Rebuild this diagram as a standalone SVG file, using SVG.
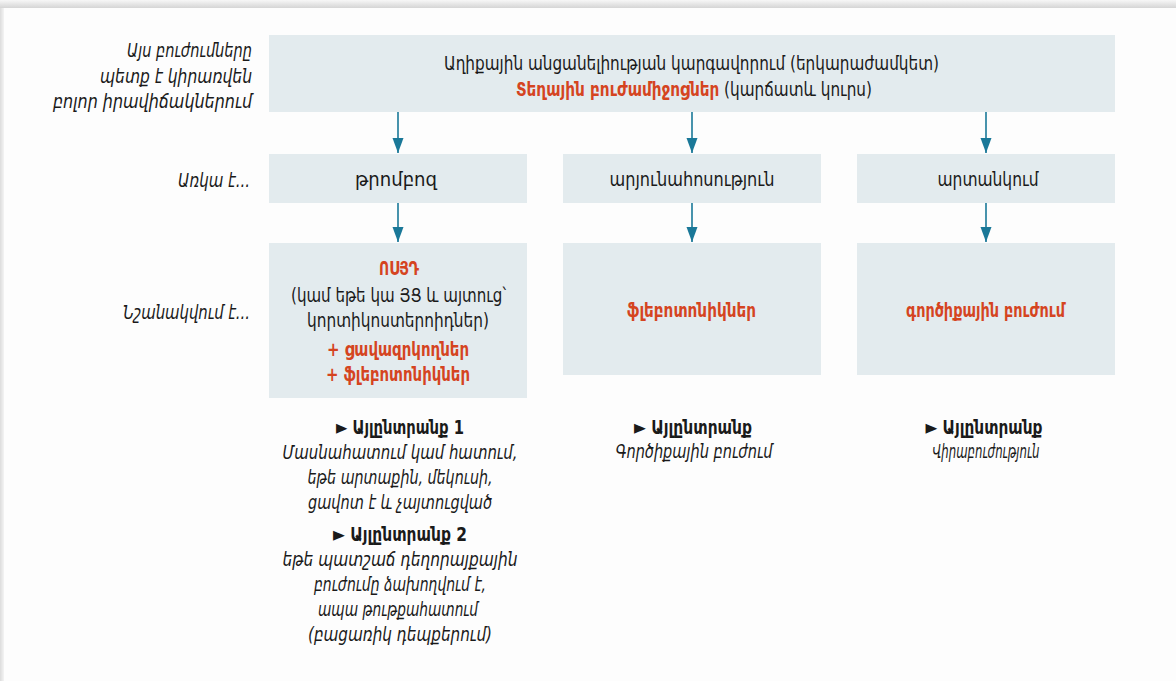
<svg xmlns="http://www.w3.org/2000/svg" width="1176" height="681" viewBox="0 0 1176 681">
<defs>
<linearGradient id="topShade" x1="0" y1="0" x2="0" y2="1">
<stop offset="0" stop-color="#f7f7f7"/>
<stop offset="1" stop-color="#d5d5d5"/>
</linearGradient>
<linearGradient id="leftShade" x1="0" y1="0" x2="1" y2="0">
<stop offset="0" stop-color="#dcdcdc"/>
<stop offset="1" stop-color="#f4f4f4"/>
</linearGradient>
<marker id="arrow" markerUnits="userSpaceOnUse" markerWidth="16" markerHeight="12" viewBox="0 -6 16 12" refX="15" refY="0" orient="auto">
<path d="M0,-5.5 L15,0 L0,5.5 Z" fill="#1a7898"/>
</marker>
<style>
.box{fill:#e3ebee;}
.t{font-family:"DejaVu Sans Condensed","DejaVu Sans",sans-serif;font-size:20px;fill:#1a1a1a;font-stretch:condensed;}
.c{text-anchor:middle;}
.r{text-anchor:end;}
.i{font-style:italic;}
.b{font-weight:bold;}
.red{fill:#d5441f;font-weight:bold;}
.conn{stroke:#1a7898;stroke-width:1.6;fill:none;marker-end:url(#arrow);}
</style>
</defs>
<rect x="0" y="0" width="1176" height="681" fill="#fdfdfd"/>
<rect x="0" y="0" width="1176" height="8" fill="url(#topShade)"/>
<rect x="0" y="8" width="4" height="673" fill="url(#leftShade)"/>

<g id="row-labels">
<text class="t i r" x="252" y="57" textLength="125" lengthAdjust="spacingAndGlyphs">Այս բուժումները</text>
<text class="t i r" x="252" y="83" textLength="152" lengthAdjust="spacingAndGlyphs">պետք է կիրառվեն</text>
<text class="t i r" x="252" y="108" textLength="199" lengthAdjust="spacingAndGlyphs">բոլոր իրավիճակներում</text>
<text class="t i r" x="250" y="187" textLength="72" lengthAdjust="spacingAndGlyphs">Առկա է...</text>
<text class="t i r" x="250" y="319" textLength="127" lengthAdjust="spacingAndGlyphs">Նշանակվում է...</text>
</g>

<g id="connectors">
<line class="conn" x1="398" y1="112" x2="398" y2="153"/>
<line class="conn" x1="692" y1="112" x2="692" y2="153"/>
<line class="conn" x1="986" y1="112" x2="986" y2="153"/>
<line class="conn" x1="398" y1="203" x2="398" y2="242"/>
<line class="conn" x1="692" y1="203" x2="692" y2="242"/>
<line class="conn" x1="986" y1="203" x2="986" y2="242"/>
</g>

<g id="node-top">
<rect class="box" x="269" y="35" width="846" height="77"/>
<text class="t c" x="691.5" y="70" textLength="495" lengthAdjust="spacingAndGlyphs">Աղիքային անցանելիության կարգավորում (երկարաժամկետ)</text>
<text class="t c" x="694" y="96" textLength="356" lengthAdjust="spacingAndGlyphs"><tspan class="red">Տեղային բուժամիջոցներ</tspan> (կարճատև կուրս)</text>
</g>

<g id="node-thrombosis">
<rect class="box" x="269" y="154" width="258" height="49"/>
<text class="t c" x="396" y="186" textLength="82" lengthAdjust="spacingAndGlyphs">թրոմբոզ</text>
</g>
<g id="node-bleeding">
<rect class="box" x="563" y="154" width="258" height="49"/>
<text class="t c" x="692" y="186" textLength="165" lengthAdjust="spacingAndGlyphs">արյունահոսություն</text>
</g>
<g id="node-prolapse">
<rect class="box" x="857" y="154" width="258" height="49"/>
<text class="t c" x="988" y="186" textLength="101" lengthAdjust="spacingAndGlyphs">արտանկում</text>
</g>

<g id="node-treat-thrombosis">
<rect class="box" x="269" y="243" width="258" height="155"/>
<text class="t red c" x="399" y="275" textLength="40" lengthAdjust="spacingAndGlyphs">ՈՍՅԴ</text>
<text class="t c" x="398.5" y="302" textLength="215" lengthAdjust="spacingAndGlyphs">(կամ եթե կա ՅՑ և այտուց՝</text>
<text class="t c" x="398" y="327" textLength="182" lengthAdjust="spacingAndGlyphs">կորտիկոստերոիդներ)</text>
<text class="t red c" x="398" y="356" textLength="142" lengthAdjust="spacingAndGlyphs">+ ցավազրկողներ</text>
<text class="t red c" x="398" y="381" textLength="144" lengthAdjust="spacingAndGlyphs">+ ֆլեբոտոնիկներ</text>
</g>
<g id="node-treat-bleeding">
<rect class="box" x="563" y="243" width="258" height="132"/>
<text class="t red c" x="691.5" y="317" textLength="129" lengthAdjust="spacingAndGlyphs">ֆլեբոտոնիկներ</text>
</g>
<g id="node-treat-prolapse">
<rect class="box" x="857" y="243" width="258" height="132"/>
<text class="t red c" x="985.5" y="317" textLength="159" lengthAdjust="spacingAndGlyphs">գործիքային բուժում</text>
</g>

<g id="alt-thrombosis">
<text class="t b c" x="400" y="434" textLength="128" lengthAdjust="spacingAndGlyphs">► Այլընտրանք 1</text>
<text class="t i c" x="400" y="459" textLength="235" lengthAdjust="spacingAndGlyphs">Մասնահատում կամ հատում,</text>
<text class="t i c" x="400" y="484" textLength="185" lengthAdjust="spacingAndGlyphs">եթե արտաքին, մեկուսի,</text>
<text class="t i c" x="400" y="509" textLength="184" lengthAdjust="spacingAndGlyphs">ցավոտ է և չայտուցված</text>
<text class="t b c" x="400" y="541" textLength="134" lengthAdjust="spacingAndGlyphs">► Այլընտրանք 2</text>
<text class="t i c" x="400" y="566" textLength="235" lengthAdjust="spacingAndGlyphs">եթե պատշաճ դեղորայքային</text>
<text class="t i c" x="400" y="591" textLength="172" lengthAdjust="spacingAndGlyphs">բուժումը ձախողվում է,</text>
<text class="t i c" x="398" y="616" textLength="160" lengthAdjust="spacingAndGlyphs">ապա թութքահատում</text>
<text class="t i c" x="400" y="641" textLength="184" lengthAdjust="spacingAndGlyphs">(բացառիկ դեպքերում)</text>
</g>
<g id="alt-bleeding">
<text class="t b c" x="693" y="434" textLength="118" lengthAdjust="spacingAndGlyphs">► Այլընտրանք</text>
<text class="t i c" x="694" y="458" textLength="157" lengthAdjust="spacingAndGlyphs">Գործիքային բուժում</text>
</g>
<g id="alt-prolapse">
<text class="t b c" x="984" y="434" textLength="117" lengthAdjust="spacingAndGlyphs">► Այլընտրանք</text>
<text class="t i c" x="986" y="458" textLength="107" lengthAdjust="spacingAndGlyphs">Վիրաբուժություն</text>
</g>
</svg>
